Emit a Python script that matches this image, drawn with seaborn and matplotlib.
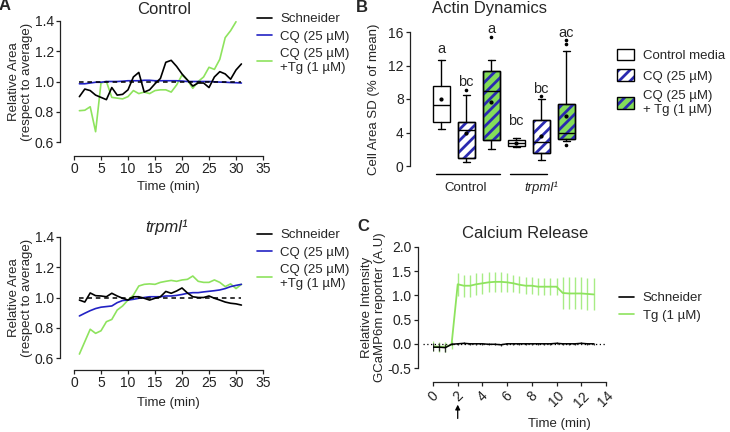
import seaborn as sns
import matplotlib.pyplot as plt
from matplotlib.lines import Line2D
from matplotlib.patches import Patch, PathPatch

# ---- panel A data (relative area vs time) ----
time_a = list(range(1, 32))
ctrl_schneider = [0.90, 0.95, 0.94, 0.91, 0.895, 0.88, 0.96, 0.91, 0.915, 0.945, 1.03,
                  1.06, 0.93, 0.945, 0.985, 1.02, 1.127, 1.14, 1.10, 1.05, 1.01, 0.97,
                  0.99, 0.99, 0.96, 1.03, 1.065, 1.05, 1.015, 1.076, 1.116]
ctrl_cq = [0.985, 0.985, 0.99, 0.995, 0.995, 1.0, 1.0, 1.0, 1.002, 1.005, 1.005, 1.005,
           1.008, 1.008, 1.005, 1.005, 1.005, 1.005, 1.005, 1.003, 1.0, 1.0, 1.0, 1.0,
           1.0, 0.998, 0.996, 0.995, 0.993, 0.992, 0.99]
time_a_tg = list(range(1, 31))
ctrl_cqtg = [0.807, 0.81, 0.833, 0.668, 0.99, 1.0, 0.895, 0.89, 0.885, 0.90, 0.94, 0.92,
             0.93, 0.92, 0.94, 0.945, 0.945, 0.93, 0.977, 1.043, 1.01, 0.955, 1.0, 1.03,
             1.094, 1.08, 1.147, 1.29, 1.336, 1.395]

trp_schneider = [0.983, 0.97, 1.03, 1.012, 1.01, 1.005, 1.028, 1.01, 0.995, 0.983, 1.005,
                 1.005, 0.995, 0.983, 0.995, 1.005, 1.04, 1.028, 1.043, 1.063, 1.03, 1.005,
                 1.0, 1.0, 1.01, 0.995, 0.983, 0.97, 0.962, 0.958, 0.95]
trp_cq = [0.878, 0.896, 0.913, 0.927, 0.936, 0.94, 0.944, 0.966, 0.98, 0.983, 0.988, 0.995,
          1.0, 1.005, 1.005, 1.005, 1.01, 1.01, 1.014, 1.02, 1.028, 1.032, 1.032, 1.037,
          1.041, 1.045, 1.05, 1.059, 1.072, 1.08, 1.087]
trp_cqtg = [0.626, 0.708, 0.79, 0.763, 0.78, 0.84, 0.855, 0.917, 0.944, 0.983, 1.016, 1.076,
            1.087, 1.09, 1.087, 1.10, 1.107, 1.113, 1.107, 1.116, 1.12, 1.142, 1.107, 1.10,
            1.10, 1.116, 1.10, 1.072, 1.09, 1.059, 1.087]

# ---- panel B data (box plot summaries) ----
box_pos = [1, 2, 3, 4, 5, 6]
box_lo = [4.4, 0.5, 2.0, 2.3, 0.7, 3.0]
box_q1 = [5.3, 0.95, 3.1, 2.4, 1.5, 3.2]
box_med = [7.3, 4.3, 8.9, 2.75, 2.9, 4.0]
box_q3 = [9.5, 5.3, 11.4, 3.1, 5.5, 7.4]
box_hi = [12.6, 8.5, 12.7, 3.4, 8.0, 13.7]
box_mean = [8.0, 3.9, 7.7, 2.7, 3.6, 6.0]
box_out = [[], [9.1], [15.4], [], [8.3], [14.6, 15.0, 2.5]]
box_letters = ['a', 'bc', 'a', 'bc', 'bc', 'ac']
letter_y = [14.0, 10.0, 16.4, 5.4, 9.2, 15.9]
groups = ['Control', 'trpml¹']
group_center = [2, 5]

# ---- panel C data (calcium release) ----
time_c = [0, 0.5, 1, 1.5, 2, 2.5, 3, 3.5, 4, 4.5, 5, 5.5, 6, 6.5, 7, 7.5, 8, 8.5, 9,
          9.5, 10, 10.5, 11, 11.5, 12, 12.5, 13]
tg_mean = [-0.05, -0.06, -0.06, -0.02, 1.23, 1.20, 1.20, 1.23, 1.25, 1.27, 1.28, 1.28,
           1.27, 1.25, 1.22, 1.20, 1.20, 1.18, 1.18, 1.18, 1.18, 1.05, 1.04, 1.04, 1.04,
           1.03, 1.02]
tg_err = [0.1, 0.1, 0.1, 0.08, 0.24, 0.23, 0.23, 0.23, 0.22, 0.21, 0.21, 0.21, 0.2, 0.18,
          0.18, 0.18, 0.18, 0.18, 0.18, 0.18, 0.18, 0.33, 0.33, 0.33, 0.33, 0.33, 0.33]
sch_mean = [-0.07, -0.07, -0.08, -0.01, 0.0, 0.01, 0.0, 0.0, 0.0, -0.01, -0.01, -0.02,
            0.0, 0.0, 0.0, 0.0, 0.0, 0.0, 0.0, 0.0, 0.01, 0.0, 0.0, 0.0, 0.01, 0.0, 0.0]
sch_err = [0.08, 0.08, 0.08, 0.02, 0.02, 0.02, 0.02, 0.02, 0.02, 0.02, 0.02, 0.02, 0.02,
           0.02, 0.02, 0.02, 0.02, 0.02, 0.02, 0.02, 0.02, 0.02, 0.02, 0.02, 0.02, 0.02, 0.02]

BLUE = '#2222c4'
GREEN = '#8ee35e'
BOXGREEN = '#84dc5a'
HATCHBLUE = '#2a2ab0'

sns.set_style('ticks')
plt.rcParams['font.family'] = ['Liberation Sans', 'DejaVu Sans']
plt.rcParams['font.size'] = 9.5
plt.rcParams['axes.unicode_minus'] = False
plt.rcParams['hatch.linewidth'] = 2.0
plt.rcParams['axes.linewidth'] = 0.9

W, H = 730, 432
fig = plt.figure(figsize=(7.3, 4.32), dpi=100)


def px_axes(left, top, right, bottom):
    return fig.add_axes([left / W, 1 - bottom / H, (right - left) / W, (bottom - top) / H])


def style(ax):
    ax.tick_params(direction='out', length=3, width=0.9, pad=1.5, labelsize=10,
                   colors='#222222')
    for s in ax.spines.values():
        s.set_color('#222222')


# ---------------- panel A ----------------
panel_a = [(21, 142, ctrl_schneider, ctrl_cq, ctrl_cqtg, time_a_tg, 10),
           (237, 358, trp_schneider, trp_cq, trp_cqtg, time_a, 8.5)]
for top, bottom, sch, cq, cqtg, t_tg, off in panel_a:
    ax = px_axes(74, top, 263, bottom)
    ax.plot([1, 31], [1, 1], color='black', ls=(0, (3, 2.5)), lw=1.1, zorder=4)
    sns.lineplot(x=time_a, y=cq, color=BLUE, lw=1.2, ax=ax, zorder=3)
    sns.lineplot(x=t_tg, y=cqtg, color=GREEN, lw=1.2, ax=ax, zorder=2)
    sns.lineplot(x=time_a, y=sch, color='black', lw=1.2, ax=ax, zorder=5)
    ax.set_xlim(0, 35)
    ax.set_ylim(0.6, 1.4)
    ax.set_xticks(range(0, 36, 5))
    ax.set_yticks([0.6, 0.8, 1.0, 1.2, 1.4])
    ax.set_yticklabels(['0.6', '0.8', '1.0', '1.2', '1.4'])
    sns.despine(ax=ax, offset={'left': 10, 'bottom': off})
    style(ax)
    ax.set_xlabel('Time (min)', fontsize=9.5)
    ax.xaxis.set_label_coords(0.5, -0.32)
    ax.set_ylabel('Relative Area\n(respect to average)', fontsize=9.5, linespacing=1.15)
    ax.yaxis.set_label_coords(-0.215, 0.5)
    handles = [Line2D([], [], color='black', lw=1.2),
               Line2D([], [], color=BLUE, lw=1.2),
               Line2D([], [], color=GREEN, lw=1.2)]
    fig.legend(handles, ['Schneider', 'CQ (25 µM)', 'CQ (25 µM)\n+Tg (1 µM)'],
               loc='upper left', bbox_to_anchor=(257 / W, 1 - (top - 8) / H),
               frameon=False, borderpad=0, borderaxespad=0, handlelength=1.15,
               handletextpad=0.6, labelspacing=0.4, fontsize=9.5)

fig.text(164 / W, 1 - 10 / H, 'Control', ha='center', va='center', fontsize=12)
fig.text(167 / W, 1 - 227 / H, 'trpml¹', ha='center', va='center', fontsize=12,
         style='italic')

# ---------------- panel B ----------------
axb = px_axes(410, 32, 578, 166)
stats = []
for i in range(len(box_pos)):
    stats.append(dict(med=box_med[i], q1=box_q1[i], q3=box_q3[i], whislo=box_lo[i],
                      whishi=box_hi[i], mean=box_mean[i], fliers=box_out[i]))
bp = axb.bxp(stats, positions=box_pos, widths=0.68, capwidths=0.28, patch_artist=True,
             showmeans=True,
             boxprops=dict(linewidth=1.0, edgecolor='black'),
             medianprops=dict(color='black', lw=1.0, zorder=3),
             whiskerprops=dict(color='black', lw=1.0),
             capprops=dict(color='black', lw=1.0),
             meanprops=dict(marker='o', markersize=2, markerfacecolor='black',
                            markeredgecolor='black', zorder=4),
             flierprops=dict(marker='o', markersize=1.6, markerfacecolor='black',
                             markeredgecolor='black'))
box_face = ['white', 'white', BOXGREEN, 'white', 'white', BOXGREEN]
box_hatch = [False, True, True, False, True, True]
for patch, face, hatch in zip(bp['boxes'], box_face, box_hatch):
    patch.set_facecolor(face)
    patch.set_zorder(2)
    if hatch:
        axb.add_patch(PathPatch(patch.get_path(), fill=False, edgecolor=HATCHBLUE,
                                hatch='///', lw=0, zorder=2.1))
        axb.add_patch(PathPatch(patch.get_path(), fill=False, edgecolor='black',
                                lw=1.0, zorder=2.2))
for p, lab, y in zip(box_pos, box_letters, letter_y):
    axb.text(p, y, lab, ha='center', va='center', fontsize=10.5)

axb.set_xlim(-0.24, 6.48)
axb.set_ylim(0, 16)
axb.set_yticks([0, 4, 8, 12, 16])
axb.set_xticks([])
sns.despine(ax=axb, bottom=True)
style(axb)
axb.set_ylabel('Cell Area SD (% of mean)', fontsize=9.5)
axb.yaxis.set_label_coords(-0.18, 0.5)
for (x0, x1), name, c in zip([(0.8, 3.35), (3.75, 5.25)], groups, group_center):
    axb.plot([x0, x1], [-1.0, -1.0], color='black', lw=1.0, clip_on=False)
    axb.text(c, -2.6, name, ha='center', va='center', fontsize=9.5,
             style='italic' if name != 'Control' else 'normal')

leg_b = [Patch(facecolor='white', edgecolor='black', lw=1.0),
         (Patch(facecolor='white', edgecolor=HATCHBLUE, hatch='///', lw=0),
          Patch(fill=False, edgecolor='black', lw=1.0)),
         (Patch(facecolor=BOXGREEN, edgecolor=HATCHBLUE, hatch='///', lw=0),
          Patch(fill=False, edgecolor='black', lw=1.0))]
fig.legend(leg_b, ['Control media', 'CQ (25 µM)', 'CQ (25 µM)\n+ Tg (1 µM)'],
           loc='upper left', bbox_to_anchor=(617 / W, 1 - 49 / H), frameon=False,
           borderpad=0, borderaxespad=0, handlelength=1.3, handleheight=0.95,
           handletextpad=0.7, labelspacing=0.55, fontsize=9.5)
fig.text(490 / W, 1 - 8 / H, 'Actin Dynamics', ha='center', va='center', fontsize=12)

# ---------------- panel C ----------------
axc = px_axes(433, 247, 606, 368)
axc.plot([-0.8, 14], [0, 0], color='black', ls=(0, (1, 2)), lw=0.9, clip_on=False, zorder=1)
axc.errorbar(time_c, tg_mean, yerr=tg_err, fmt='none', ecolor='#a8ec85', elinewidth=1.0,
             capsize=0, zorder=2)
sns.lineplot(x=time_c, y=tg_mean, color=GREEN, lw=1.3, ax=axc, zorder=3)
axc.errorbar(time_c, sch_mean, yerr=sch_err, fmt='none', ecolor='#333333', elinewidth=0.9,
             capsize=0, zorder=4)
sns.lineplot(x=time_c, y=sch_mean, color='black', lw=1.1, ax=axc, zorder=5)
axc.set_xlim(0, 14)
axc.set_ylim(-0.5, 2.0)
axc.set_xticks(range(0, 15, 2))
axc.set_yticks([-0.5, 0.0, 0.5, 1.0, 1.5, 2.0])
axc.set_yticklabels(['-0.5', '0.0', '0.5', '1.0', '1.5', '2.0'])
sns.despine(ax=axc, offset={'left': 11, 'bottom': 10})
style(axc)
axc.tick_params(axis='x', pad=2, labelrotation=45)
axc.set_xlabel('Time (min)', fontsize=9.5)
axc.xaxis.set_label_coords(0.73, -0.41)
axc.set_ylabel('Relative Intensity\nGCaMP6m reporter (A.U)', fontsize=9.5, linespacing=1.15)
axc.yaxis.set_label_coords(-0.27, 0.5)
axc.annotate('', xy=(2, -1.2), xytext=(2, -1.6), annotation_clip=False,
             arrowprops=dict(arrowstyle='-|>', color='black', lw=0.9, mutation_scale=7))
leg_c = [Line2D([], [], color='black', lw=1.2), Line2D([], [], color=GREEN, lw=1.2)]
fig.legend(leg_c, ['Schneider', 'Tg (1 µM)'], loc='upper left',
           bbox_to_anchor=(619 / W, 1 - 292 / H), frameon=False, borderpad=0,
           borderaxespad=0, handlelength=1.15, handletextpad=0.65, labelspacing=0.4,
           fontsize=9.5)
fig.text(525 / W, 1 - 233 / H, 'Calcium Release', ha='center', va='center', fontsize=12)

# panel letters
for letter, x, y in [('A', 5, 6), ('B', 362, 8), ('C', 363, 227)]:
    fig.text(x / W, 1 - y / H, letter, ha='center', va='center', fontsize=12,
             fontweight='bold')

fig.savefig('out.png', dpi=100)
